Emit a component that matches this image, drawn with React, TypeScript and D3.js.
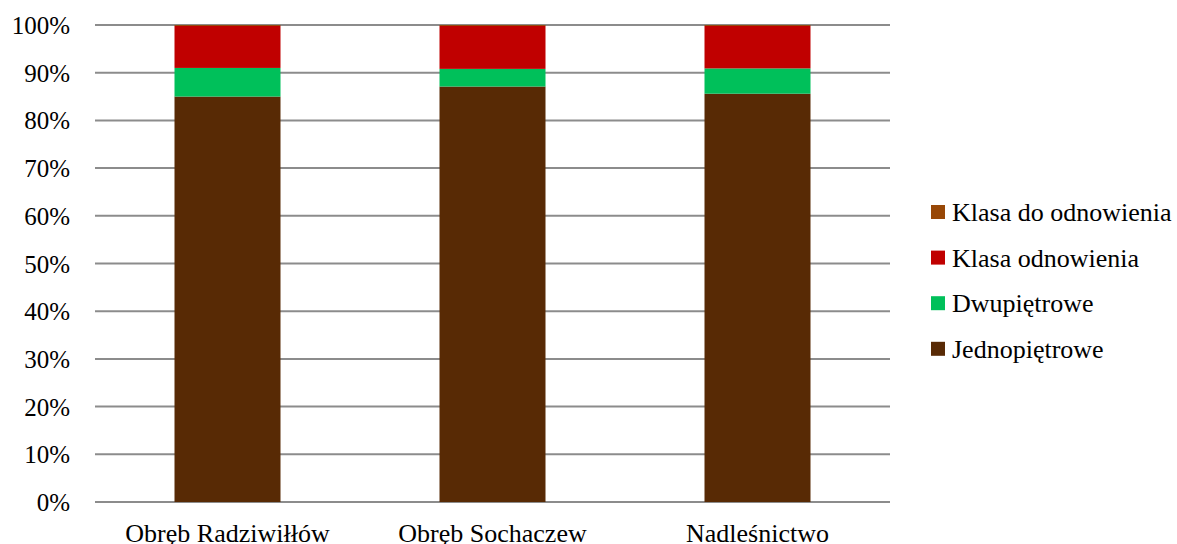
import React from "react";
import * as d3 from "d3";

const categories = ["Obręb Radziwiłłów", "Obręb Sochaczew", "Nadleśnictwo"];
const jednopietrowe = [85.0, 87.1, 85.6];
const dwupietrowe = [6.0, 3.7, 5.3];
const klasaOdnowienia = [8.8, 9.0, 8.9];
const klasaDoOdnowienia = [0.2, 0.2, 0.2];
const yTicks = [0, 10, 20, 30, 40, 50, 60, 70, 80, 90, 100];

const seriesNames = ["Jednopiętrowe", "Dwupiętrowe", "Klasa odnowienia", "Klasa do odnowienia"];
const seriesColors = ["#582A05", "#00C05A", "#C00000", "#984807"];

export default function App() {
  const W = 1177, H = 544;
  const left = 95, right = 890, top = 25, bottom = 502;
  const x = d3.scaleBand().domain(categories).range([left, right]).paddingInner(0.6).paddingOuter(0.3);
  const y = d3.scaleLinear().domain([0, 100]).range([bottom, top]);
  const rows = categories.map((c, i) => ({
    cat: c,
    s0: jednopietrowe[i],
    s1: dwupietrowe[i],
    s2: klasaOdnowienia[i],
    s3: klasaDoOdnowienia[i],
  }));
  const stack = d3.stack<any>().keys(["s0", "s1", "s2", "s3"]).offset(d3.stackOffsetExpand);
  const layers = stack(rows);
  const font = "Liberation Serif";
  const legendOrder = [3, 2, 1, 0];
  const ts: React.CSSProperties = { fontFamily: '"Liberation Serif", "Times New Roman", Times, serif' };
  return (
    <svg width={W} height={H} style={{ position: "absolute", left: 0, top: 0 }}>
      <rect width={W} height={H} fill="#fff" />
      {yTicks.map((t) => (
        <g key={t}>
          <line x1={left} x2={right} y1={y(t)} y2={y(t)} stroke="#8c8c8c" strokeWidth={2} />
          <text x={70} y={y(t) + 9} textAnchor="end" fontFamily={font} style={ts} fontSize={25} fill="#000">
            {t}%
          </text>
        </g>
      ))}
      {layers.map((layer, li) =>
        layer.map((d, i) => (
          <rect
            key={li + "-" + i}
            x={x(categories[i])!}
            width={x.bandwidth()}
            y={y(d[1] * 100)}
            height={Math.max(0, y(d[0] * 100) - y(d[1] * 100))}
            fill={seriesColors[li]}
          />
        ))
      )}
      {categories.map((c) => (
        <text key={c} x={x(c)! + x.bandwidth() / 2} y={542} textAnchor="middle" fontFamily={font} style={ts} fontSize={26} fill="#000">
          {c}
        </text>
      ))}
      {legendOrder.map((si, k) => {
        const cy = 212 + k * 45.6;
        return (
          <g key={si}>
            <rect x={931} y={cy - 7} width={14} height={14} fill={seriesColors[si]} />
            <text x={952} y={cy + 9} fontFamily={font} style={ts} fontSize={26} fill="#000">
              {seriesNames[si]}
            </text>
          </g>
        );
      })}
    </svg>
  );
}
